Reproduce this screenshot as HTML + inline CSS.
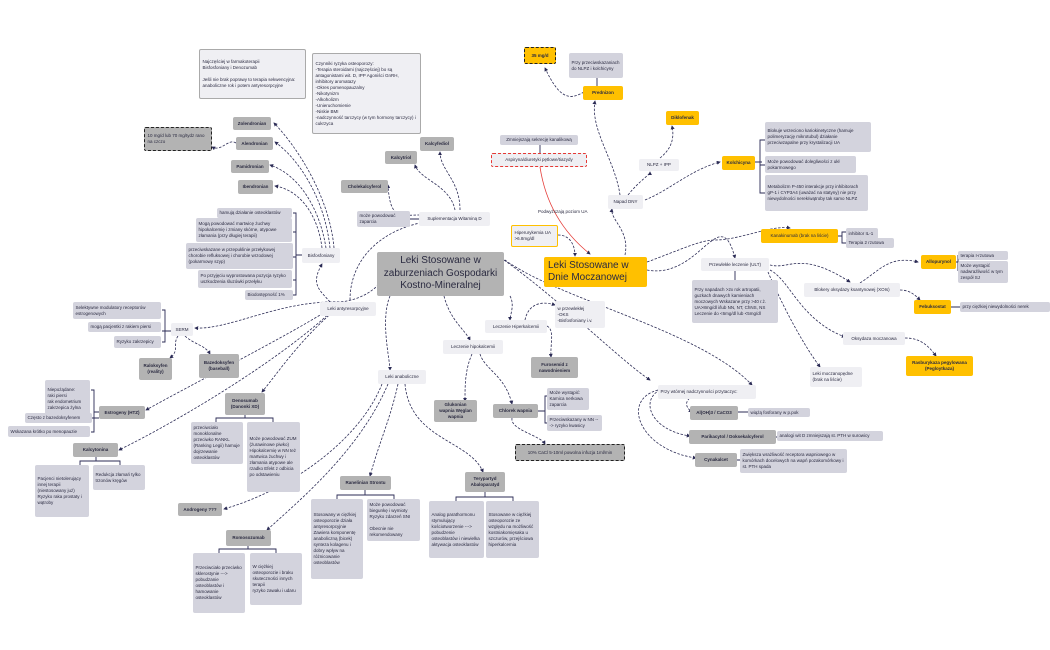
<!DOCTYPE html>
<html><head><meta charset="utf-8"><style>
body{margin:0;width:1050px;height:650px;background:#fff;position:relative;overflow:hidden;font-family:"Liberation Sans",sans-serif;color:#2a2a40}
.n{position:absolute;box-sizing:border-box;border-radius:2px;font-size:4.5px;line-height:6px;padding:1px 2.5px;display:flex;align-items:center;white-space:pre-line;overflow:hidden}
.l{background:#efeff3}.m{background:#d3d3dd}.d{background:#b3b3b3;font-weight:bold;justify-content:center;text-align:center}
.y{background:#ffc000;justify-content:center;text-align:center;font-weight:bold}
.c{justify-content:center;text-align:center}
svg{position:absolute;left:0;top:0}
</style></head><body>
<svg width="1050" height="650" fill="none" stroke="#2b2b55" stroke-width="0.8">
<defs><marker id="a" markerWidth="5" markerHeight="5" refX="4" refY="2.5" orient="auto"><path d="M0,0L5,2.5L0,5z" fill="#2b2b55" stroke="none"/></marker></defs>
<g stroke-dasharray="2.5,1.5" marker-end="url(#a)">
<path d="M330,302 C320,290 310,285 322,264"/>
<path d="M334,248 C330,200 300,150 274,123"/>
<path d="M330,248 C325,200 300,160 275,142"/>
<path d="M326,248 C320,210 300,175 270,165"/>
<path d="M322,248 C318,215 300,190 275,186"/>
<path d="M236,143 C228,138 222,152 212,147"/>
<path d="M390,268 C380,290 360,300 340,302 C280,300 230,330 195,328"/>
<path d="M178,336 C172,345 180,350 170,358"/>
<path d="M185,336 C195,345 205,345 210,354"/>
<path d="M330,309 C280,340 200,380 146,410"/>
<path d="M333,310 C280,360 180,420 119,450"/>
<path d="M335,310 C300,340 280,370 262,392"/>
<path d="M390,296 C380,320 390,360 390,370"/>
<path d="M382,384 C360,440 290,490 224,509"/>
<path d="M388,384 C360,450 300,500 267,530"/>
<path d="M398,384 C390,420 380,440 370,476"/>
<path d="M405,384 C410,440 470,440 483,472"/>
<path d="M444,296 C450,320 465,330 470,340"/>
<path d="M510,296 C515,305 510,315 510,320"/>
<path d="M472,354 C465,370 465,385 465,401"/>
<path d="M480,354 C485,370 505,375 512,404"/>
<path d="M512,418 C510,430 540,435 545,444"/>
<path d="M547,326 C555,330 550,345 551,357"/>
<path d="M525,320 C528,305 540,300 555,305"/>
<path d="M505,260 C560,300 700,330 752,385"/>
<path d="M740,392 C700,385 675,400 692,412"/>
<path d="M660,390 C640,400 650,430 690,436"/>
<path d="M658,390 C620,400 640,450 696,458"/>
<path d="M350,300 C350,260 380,230 425,222"/>
<path d="M420,215 C400,215 390,220 388,185"/>
<path d="M455,210 C450,185 420,180 415,165"/>
<path d="M460,210 C460,180 440,170 440,152"/>
<path d="M558,235 C570,235 575,245 575,256"/>
<path d="M625,255 C630,230 610,220 612,209"/>
<path d="M620,195 C615,160 590,130 595,101"/>
<path d="M584,92 C570,100 560,100 545,68"/>
<path d="M628,195 C640,180 650,175 650,172"/>
<path d="M660,158 C670,150 675,140 672,126"/>
<path d="M645,200 C670,190 690,170 720,162"/>
<path d="M647,262 C680,250 700,240 715,240 C740,240 770,225 790,228"/>
<path d="M647,270 C700,280 720,200 735,258"/>
<path d="M770,265 C790,270 800,250 850,282"/>
<path d="M860,283 C880,270 890,255 918,262"/>
<path d="M900,290 C910,290 915,295 920,300"/>
<path d="M770,270 C790,280 800,320 845,337"/>
<path d="M768,272 C780,300 800,340 820,367"/>
<path d="M905,338 C920,338 928,345 936,356"/>
<path d="M504,260 C560,300 620,360 650,380"/>
</g>
<path d="M540,167 C545,200 560,230 590,254" stroke="#e53935" marker-end="url(#a)"/>
<g stroke-width="0.9">
<path d="M540,145V153M597,78V86M293,213H296V295H293M293,232H296M293,257H296M293,280H296M296,255H302"/>
<path d="M162,310H165V342H162M162,331H171M91,390H94V432H91M91,418H99M94,412H99"/>
<path d="M80,465V461H120V465M96,457V461M216,422V418H273V422M245,415V418M219,553V549H276V549V553M248,546V549"/>
<path d="M337,499V495H394V499M365,490V495M456,501V497H513V501M485,492V497"/>
<path d="M542,411H545V396H547M545,411V423H547M538,411H542M410,219H420"/>
<path d="M762,162H760V140H765M760,162V193H765M755,162H760M760,165H765"/>
<path d="M838,236H842V232H846M842,236V243H846M956,262H958V255M958,262V271M735,271V280"/>
<path d="M951,307H960M738,412H748M776,437H777M737,460H740"/>
</g>
</svg>
<div class="n l" style="left:199px;top:49px;width:107px;height:50px;border:1px solid #aaa">Najczęściej w farmakoterapii
Bisfosfoniany i Denozumab

Jeśli nie brak poprawy to terapia sekwencyjna:
anaboliczne rok i potem antyresorpcyjne</div>
<div class="n l" style="left:312px;top:53px;width:109px;height:81px;border:1px solid #aaa">Czynniki ryzyka osteoporozy:
-Terapia steroidami (najczęściej) bo są antagonistami wit. D, IPP Agoniści GnRH, inhibitory aromatazy
-Okres pomenopauzalny
-Nikotynizm
-Alkoholizm
-Unieruchomienie
-Niskie BMI
-nadczynność tarczycy (w tym hormony tarczycy) i cukrzyca</div>
<div class="n d" style="left:233px;top:117px;width:38px;height:13px">Zolendronian</div>
<div class="n d" style="left:236px;top:137px;width:37px;height:13px">Alendronian</div>
<div class="n d" style="left:144px;top:127px;width:68px;height:24px;border:1.5px dashed #222;justify-content:flex-start;text-align:left;font-weight:normal">10 mg/d lub 70 mg/tydz rano na czczo</div>
<div class="n d" style="left:231px;top:160px;width:38px;height:13px">Pamidronian</div>
<div class="n d" style="left:238px;top:180px;width:35px;height:14px">Ibendronian</div>
<div class="n m" style="left:217px;top:208px;width:75px;height:10px">hamują działanie osteoklastów</div>
<div class="n m" style="left:196px;top:218px;width:96px;height:24px">Mogą powodować martwicę żuchwy hipokalcemię i zmiany skórne, atypowe złamania (przy długiej terapii)</div>
<div class="n m" style="left:186px;top:243px;width:107px;height:26px">przeciwskazane w przepuklinie przełykowej chorobie refluksowej i chorobie wrzodowej (pokarmowy szyp)</div>
<div class="n m" style="left:198px;top:270px;width:94px;height:18px">Po przyjęciu wyprostowana pozycja ryzyko uszkodzenia śluzówki przełyku</div>
<div class="n m" style="left:245px;top:290px;width:48px;height:10px">Biodostępność 1%</div>
<div class="n l c" style="left:302px;top:248px;width:38px;height:15px">Bisfosfoniany</div>
<div class="n l c" style="left:320px;top:302px;width:56px;height:14px">Leki antyresorpcyjne</div>
<div class="n m" style="left:73px;top:302px;width:88px;height:17px">Selektywne modulatory receptorów estrogenowych</div>
<div class="n m" style="left:88px;top:322px;width:73px;height:10px">mogą pacjentki z rakiem piersi</div>
<div class="n m" style="left:114px;top:336px;width:47px;height:12px">Ryzyko zakrzepicy</div>
<div class="n l c" style="left:171px;top:323px;width:22px;height:13px">SERM</div>
<div class="n d" style="left:139px;top:358px;width:33px;height:22px">Raloksyfen (reality)</div>
<div class="n d" style="left:199px;top:354px;width:40px;height:24px">Bazedoksyfen (baseball)</div>
<div class="n m" style="left:45px;top:380px;width:45px;height:38px">Niepożądane:
raki piersi
rak endometrium
zakrzepica żylna</div>
<div class="n m" style="left:25px;top:413px;width:67px;height:10px">Często z bazedoksyfenem</div>
<div class="n m" style="left:8px;top:426px;width:82px;height:11px">Wskazana krótko po menopauzie</div>
<div class="n d" style="left:99px;top:406px;width:46px;height:13px">Estrogeny (HTZ)</div>
<div class="n d" style="left:73px;top:443px;width:45px;height:14px">Kalcytonina</div>
<div class="n m" style="left:35px;top:465px;width:54px;height:52px">Pacjenci nietolerujący innej terapii (niestosowany już) Ryzyko raka prostaty i wątroby</div>
<div class="n m" style="left:93px;top:465px;width:52px;height:25px">Redukcja złamań tylko trzonów kręgów</div>
<div class="n d" style="left:225px;top:393px;width:40px;height:22px">Denosumab (Danonki XD)</div>
<div class="n m" style="left:191px;top:422px;width:52px;height:42px">przeciwciało monoklonalne przeciwko RANKL (Ranking Legii) hamuje dojrzewanie osteoklastów</div>
<div class="n m" style="left:247px;top:422px;width:53px;height:70px">Może powodować ZUM (żurawinowe piwko) Hipokalcemię w NN też martwica żuchwy i złamania atypowe ale rzadko Efekt z odbicia po odstawieniu</div>
<div class="n d" style="left:178px;top:503px;width:44px;height:13px">Androgeny ???</div>
<div class="n d" style="left:226px;top:530px;width:45px;height:16px">Romosozumab</div>
<div class="n m" style="left:193px;top:553px;width:52px;height:60px">Przeciwciało przeciwko sklerostynie ---&gt; pobudzanie osteoblastów i hamowanie osteoklastów</div>
<div class="n m" style="left:250px;top:553px;width:52px;height:52px">W ciężkiej osteoporozie i braku skuteczności innych terapii
ryzyko zawału i udaru</div>
<div class="n l c" style="left:378px;top:370px;width:48px;height:14px">Leki anaboliczne</div>
<div class="n d" style="left:340px;top:476px;width:51px;height:14px">Ranelinian Strontu</div>
<div class="n m" style="left:311px;top:499px;width:52px;height:80px">Stosowany w ciężkiej osteoporozie działa antyresorpcyjnie Zawiera komponentę anaboliczną (bicek) synteza kolagenu i dobry wpływ na różnicowanie osteoblastów</div>
<div class="n m" style="left:367px;top:499px;width:53px;height:42px">Może powodować biegunkę i wymioty Ryzyko zdarzeń SNI

Obecnie nie rekomendowany</div>
<div class="n d" style="left:465px;top:472px;width:40px;height:20px">Terypartyd Abaloparatyd</div>
<div class="n m" style="left:429px;top:501px;width:55px;height:57px">Analog parathormonu stymulujący kościotworzenie ---&gt; pobudzenie osteoblastów i niewielka aktywacja osteoklastów</div>
<div class="n m" style="left:486px;top:501px;width:53px;height:57px">Stosowane w ciężkiej osteoporozie ze względu na możliwość kostniakomięsaka u szczurów, przejściowa hiperkalcemia</div>
<div class="n l c" style="left:443px;top:340px;width:60px;height:14px">Leczenie hipokalcemii</div>
<div class="n d" style="left:434px;top:400px;width:43px;height:22px">Glukonian wapnia Węglan wapnia</div>
<div class="n d" style="left:493px;top:404px;width:45px;height:14px">Chlorek wapnia</div>
<div class="n m" style="left:547px;top:388px;width:42px;height:22px">Może wystąpić: Kamica nerkowa zaparcia</div>
<div class="n m" style="left:547px;top:415px;width:55px;height:16px">Przeciwskazany w NN ---&gt; ryzyko kwasicy</div>
<div class="n d" style="left:515px;top:444px;width:110px;height:17px;border:1.5px dashed #222;font-weight:normal">10% CaCl 5-10ml powolna infuzja 1ml/min</div>
<div class="n l c" style="left:485px;top:320px;width:62px;height:13px">Leczenie Hiperkalcemii</div>
<div class="n l" style="left:555px;top:301px;width:50px;height:27px">w przewlekłej
-OKS
-Bisfosfoniany i.v.</div>
<div class="n d" style="left:531px;top:357px;width:47px;height:21px">Furosemid z nawodnieniem</div>
<div class="n l c" style="left:419px;top:212px;width:71px;height:14px">Suplementacja Witaminą D</div>
<div class="n m" style="left:357px;top:211px;width:53px;height:16px">może powodować zaparcia</div>
<div class="n d" style="left:341px;top:180px;width:47px;height:13px">Cholekalcyferol</div>
<div class="n d" style="left:385px;top:151px;width:32px;height:13px">Kalcytriol</div>
<div class="n d" style="left:420px;top:137px;width:34px;height:14px">Kalcyfediol</div>
<div class="n c" style="left:377px;top:252px;width:127px;height:44px;background:#b3b3b3;font-size:10px;line-height:12.5px">Leki Stosowane w zaburzeniach Gospodarki Kostno-Mineralnej</div>
<div class="n" style="left:544px;top:257px;width:103px;height:30px;background:#ffc000;font-size:10px;line-height:12px;padding:2px 4px">Leki Stosowane w Dnie Moczanowej</div>
<div class="n l" style="left:511px;top:225px;width:47px;height:22px;border:1.5px solid #ffc000">Hiperurykemia UA &gt;6.8mg/dl</div>
<div style="position:absolute;left:538px;top:209px;font-size:4.5px">Podwyższają poziom UA</div>
<div class="n l c" style="left:491px;top:153px;width:96px;height:14px;border:1px dashed #e53935">Aspiryna/diuretyki pętlowe/tiazydy</div>
<div class="n m c" style="left:500px;top:135px;width:78px;height:10px">Zmniejszają sekrecję kanalikową</div>
<div class="n y" style="left:524px;top:47px;width:32px;height:17px;border:1.5px dashed #222">35 mg/d</div>
<div class="n m" style="left:569px;top:53px;width:54px;height:25px">Przy przeciwskazaniach do NLPZ i kolchicyny</div>
<div class="n y" style="left:583px;top:86px;width:40px;height:14px">Prednizon</div>
<div class="n l c" style="left:608px;top:195px;width:35px;height:14px">Napad DNY</div>
<div class="n l c" style="left:639px;top:159px;width:40px;height:12px">NLPZ + IPP</div>
<div class="n y" style="left:666px;top:111px;width:33px;height:14px">Diklofenak</div>
<div class="n y" style="left:722px;top:156px;width:33px;height:14px">Kolchicyna</div>
<div class="n m" style="left:765px;top:122px;width:106px;height:30px">Blokuje wrzeciono kariokinetyczne (hamuje polimeryzację mikrotubul) działanie przeciwzapalne przy krystalizacji UA</div>
<div class="n m" style="left:765px;top:156px;width:91px;height:17px">Może powodować dolegliwości z ukł pokarmowego</div>
<div class="n m" style="left:765px;top:175px;width:103px;height:36px">Metabolizm P-450 interakcje przy inhibitorach gP-1 i CYP3A4 (uważać na statyny) nie przy niewydolności nerek/wątroby tak samo NLPZ</div>
<div class="n y" style="left:761px;top:229px;width:77px;height:14px;font-weight:normal">Kanakinumab (brak na liście)</div>
<div class="n m" style="left:846px;top:228px;width:32px;height:11px">inhibitor IL-1</div>
<div class="n m" style="left:846px;top:238px;width:48px;height:10px">Terapia 2 rzutowa</div>
<div class="n l c" style="left:701px;top:258px;width:68px;height:13px">Przewlekłe leczenie (ULT)</div>
<div class="n m" style="left:692px;top:280px;width:86px;height:43px">Przy napadach &gt;2x rok artropatii, guzkach dnawych kamieniach moczowych Wskazane przy &gt;40 r.ż. UA&gt;8mg/dl i/lub NN, NT, ChNS, NS Leczenie do &lt;6mg/dl lub &lt;5mg/dl</div>
<div class="n y" style="left:921px;top:255px;width:35px;height:14px">Allopurynol</div>
<div class="n m" style="left:958px;top:251px;width:50px;height:9px">terapia I-rzutowa</div>
<div class="n m" style="left:958px;top:261px;width:50px;height:22px">Może wystąpić nadwrażliwość w tym zespół SJ</div>
<div class="n l c" style="left:804px;top:283px;width:96px;height:14px">Blokery oksydazy ksantynowej (XOIs)</div>
<div class="n y" style="left:914px;top:300px;width:37px;height:14px">Febuksostat</div>
<div class="n m" style="left:960px;top:302px;width:90px;height:10px">przy ciężkiej niewydolności nerek</div>
<div class="n l c" style="left:843px;top:332px;width:62px;height:13px">Oksydaza moczanowa</div>
<div class="n y" style="left:906px;top:356px;width:67px;height:20px">Rasburykaza pegylowana (Pegloytkaza)</div>
<div class="n l" style="left:810px;top:367px;width:52px;height:20px">Leki moczanopędne (brak na liście)</div>
<div class="n l" style="left:658px;top:385px;width:98px;height:14px">Przy wtórnej nadczynności przytaczyc:</div>
<div class="n d" style="left:690px;top:406px;width:48px;height:14px">Al(OH)3 / CaCO3</div>
<div class="n m" style="left:748px;top:408px;width:62px;height:9px">wiążą fosforany w p.pok</div>
<div class="n d" style="left:689px;top:430px;width:87px;height:14px">Parikacytol / Doksekalcyferol</div>
<div class="n m" style="left:777px;top:431px;width:106px;height:10px">analogi wit D zmniejszają st. PTH w surowicy</div>
<div class="n d" style="left:695px;top:453px;width:42px;height:14px">Cynakalcet</div>
<div class="n m" style="left:740px;top:449px;width:107px;height:24px">Zwiększa wrażliwość receptora wapniowego w komórkach docelowych na wapń pozakomórkowy i st. PTH spada</div>
</body></html>
